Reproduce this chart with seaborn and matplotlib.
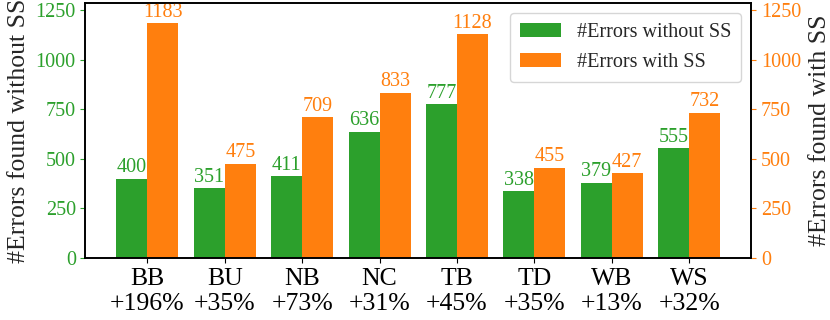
import matplotlib
matplotlib.use("Agg")
import matplotlib.pyplot as plt
import seaborn as sns
import pandas as pd

categories = ["BB", "BU", "NB", "NC", "TB", "TD", "WB", "WS"]
increase = ["+196%", "+35%", "+73%", "+31%", "+45%", "+35%", "+13%", "+32%"]
without_ss = [400, 351, 411, 636, 777, 338, 379, 555]
with_ss = [1183, 475, 709, 833, 1128, 455, 427, 732]

sns.set_style("ticks")
plt.rcParams['font.family'] = ['Liberation Serif', 'DejaVu Serif']
plt.rcParams['font.size'] = 14.5

green = "#2ca02c"
orange = "#ff7f0e"

labels = [f"{c}\n{p}" for c, p in zip(categories, increase)]
df = pd.DataFrame({
    "cat": labels * 2,
    "value": without_ss + with_ss,
    "series": ["#Errors without SS"] * len(labels) + ["#Errors with SS"] * len(labels),
})

fig = plt.figure(figsize=(8.3, 3.2), dpi=100)
ax = fig.add_axes([0.103, 0.194, 0.802, 0.796])
sns.barplot(data=df, x="cat", y="value", hue="series",
            palette=[green, orange], ax=ax, width=0.8, saturation=1,
            edgecolor="none")
ax.set_xlim(-0.8, 7.8)
ymax = 1285
ax.set_ylim(0, ymax)
ax.set_xlabel("")
ax.set_ylabel("#Errors found without SS", fontsize=18.5, labelpad=4)
ax.tick_params(axis="y", colors=green, labelsize=14.5)
ax.tick_params(axis="x", labelsize=18.5, colors="black")
for c, col in zip(ax.containers, [green, orange]):
    ax.bar_label(c, color=col, fontsize=14.5, padding=1)

ax2 = ax.twinx()
ax2.set_ylim(0, ymax)
ax2.set_yticks([0, 250, 500, 750, 1000, 1250])
ax.set_yticks([0, 250, 500, 750, 1000, 1250])
ax2.tick_params(axis="y", colors=orange, labelsize=14.5)
ax2.set_ylabel("#Errors found with SS", fontsize=18.5, labelpad=6)
for a in (ax, ax2):
    for s in a.spines.values():
        s.set_color("black")
        s.set_linewidth(1.2)

leg = ax.legend(loc="upper right", fontsize=14.5, frameon=True, fancybox=True,
                handlelength=2, borderpad=0.5)
leg.get_frame().set_edgecolor("#cccccc")

fig.savefig("out.png", dpi=100)
